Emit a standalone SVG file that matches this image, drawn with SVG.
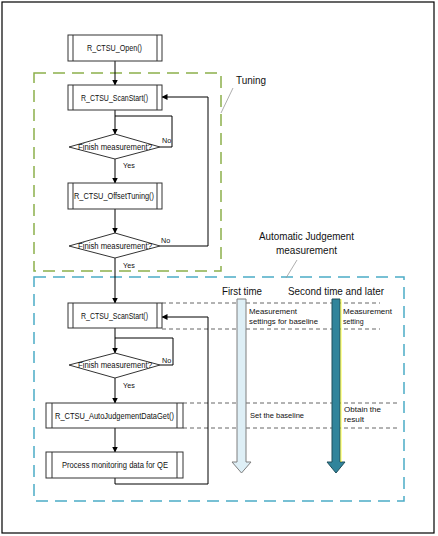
<svg xmlns="http://www.w3.org/2000/svg" width="438" height="536" viewBox="0 0 438 536">
<defs>
<marker id="ah" markerWidth="6" markerHeight="6" refX="5.5" refY="3" orient="auto" markerUnits="userSpaceOnUse">
<path d="M0,0 L6,3 L0,6 Z" fill="#000"/>
</marker>
<style>
.box{fill:#fff;stroke:#333;stroke-width:1}
.in{stroke:#333;stroke-width:1}
.t{font-family:"Liberation Sans",Arial,sans-serif;font-size:8.5px;fill:#111}
.s{font-family:"Liberation Sans",Arial,sans-serif;font-size:7.2px;fill:#111}
.lbl{font-family:"Liberation Sans",Arial,sans-serif;font-size:10.5px;fill:#111}
.sm{font-family:"Liberation Sans",Arial,sans-serif;font-size:7px;fill:#111}
.c{fill:none;stroke:#000;stroke-width:1}
.gd{fill:none;stroke:#666;stroke-width:1;stroke-dasharray:4,3}
.lead{stroke:#999;stroke-width:0.8}
</style>
</defs>
<rect x="2" y="2" width="432" height="531" fill="#fff" stroke="#000" stroke-width="1.2"/>
<g id="tuning-frame">
<rect x="34" y="73" width="187" height="198" fill="none" stroke="#8cb04b" stroke-width="1.5" stroke-dasharray="12,7"/>
<text class="lbl" x="236" y="84" textLength="30" lengthAdjust="spacingAndGlyphs">Tuning</text>
<line class="lead" x1="233" y1="88" x2="221" y2="113"/>
</g>
<g id="aj-frame">
<rect x="34" y="277" width="370" height="224" fill="none" stroke="#4bacc6" stroke-width="1.5" stroke-dasharray="12,7"/>
<text class="lbl" x="259" y="240" textLength="95" lengthAdjust="spacingAndGlyphs">Automatic Judgement</text>
<text class="lbl" x="276" y="254" textLength="61" lengthAdjust="spacingAndGlyphs">measurement</text>
<line class="lead" x1="297" y1="260" x2="286" y2="278"/>
</g>
<g id="guides">
<line class="gd" x1="162" y1="303" x2="380" y2="303"/>
<line class="gd" x1="162" y1="329" x2="380" y2="329"/>
<line class="gd" x1="183" y1="403" x2="398" y2="403"/>
<line class="gd" x1="183" y1="428" x2="398" y2="428"/>
</g>
<g id="connectors">
<line class="c" x1="115" y1="61" x2="115" y2="85" marker-end="url(#ah)"/>
<line class="c" x1="115" y1="110" x2="115" y2="134" marker-end="url(#ah)"/>
<polyline class="c" points="160,147 172,147 172,116 115,116"/>
<line class="c" x1="115" y1="159" x2="115" y2="183" marker-end="url(#ah)"/>
<line class="c" x1="115" y1="209" x2="115" y2="233" marker-end="url(#ah)"/>
<polyline class="c" points="160,246 208,246 208,97 162,97" marker-end="url(#ah)"/>
<line class="c" x1="115" y1="258" x2="115" y2="303" marker-end="url(#ah)"/>
<line class="c" x1="115" y1="328" x2="115" y2="353" marker-end="url(#ah)"/>
<polyline class="c" points="160,365 173,365 173,338 115,338"/>
<line class="c" x1="115" y1="378" x2="115" y2="403" marker-end="url(#ah)"/>
<line class="c" x1="115" y1="428" x2="115" y2="452" marker-end="url(#ah)"/>
<polyline class="c" points="115,478 115,484 208,484 208,317 162,317" marker-end="url(#ah)"/>
<text class="s" x="162" y="143">No</text>
<text class="s" x="123" y="168">Yes</text>
<text class="s" x="161" y="243">No</text>
<text class="s" x="123" y="268">Yes</text>
<text class="s" x="162" y="363">No</text>
<text class="s" x="123" y="388">Yes</text>
</g>
<g id="open">
<rect class="box" x="68" y="35" width="94" height="26"/>
<line class="in" x1="73" y1="35" x2="73" y2="61"/><line class="in" x1="157" y1="35" x2="157" y2="61"/>
<text class="t" x="87" y="51" textLength="55" lengthAdjust="spacingAndGlyphs">R_CTSU_Open()</text>
</g>
<g id="scan1">
<rect class="box" x="68" y="85" width="94" height="25"/>
<line class="in" x1="73" y1="85" x2="73" y2="110"/><line class="in" x1="157" y1="85" x2="157" y2="110"/>
<text class="t" x="81" y="101" textLength="67" lengthAdjust="spacingAndGlyphs">R_CTSU_ScanStart()</text>
</g>
<g id="finish1">
<polygon class="box" points="115,134 160,147 115,159 69,147"/>
<text class="t" x="78" y="150" textLength="74" lengthAdjust="spacingAndGlyphs">Finish measurement?</text>
</g>
<g id="offset">
<rect class="box" x="68" y="183" width="94" height="26"/>
<line class="in" x1="73" y1="183" x2="73" y2="209"/><line class="in" x1="157" y1="183" x2="157" y2="209"/>
<text class="t" x="74" y="199" textLength="80" lengthAdjust="spacingAndGlyphs">R_CTSU_OffsetTuning()</text>
</g>
<g id="finish2">
<polygon class="box" points="115,233 160,246 115,258 69,246"/>
<text class="t" x="78" y="249" textLength="74" lengthAdjust="spacingAndGlyphs">Finish measurement?</text>
</g>
<g id="scan2">
<rect class="box" x="68" y="303" width="94" height="25"/>
<line class="in" x1="73" y1="303" x2="73" y2="328"/><line class="in" x1="157" y1="303" x2="157" y2="328"/>
<text class="t" x="81" y="319" textLength="67" lengthAdjust="spacingAndGlyphs">R_CTSU_ScanStart()</text>
</g>
<g id="finish3">
<polygon class="box" points="115,353 160,365 115,378 69,365"/>
<text class="t" x="78" y="368" textLength="74" lengthAdjust="spacingAndGlyphs">Finish measurement?</text>
</g>
<g id="ajget">
<rect class="box" x="46" y="403" width="137" height="25"/>
<line class="in" x1="52" y1="403" x2="52" y2="428"/><line class="in" x1="177" y1="403" x2="177" y2="428"/>
<text class="t" x="55" y="419" textLength="119" lengthAdjust="spacingAndGlyphs">R_CTSU_AutoJudgementDataGet()</text>
</g>
<g id="process">
<rect class="box" x="46" y="452" width="137" height="26"/>
<line class="in" x1="52" y1="452" x2="52" y2="478"/><line class="in" x1="177" y1="452" x2="177" y2="478"/>
<text class="t" x="62" y="468" textLength="106" lengthAdjust="spacingAndGlyphs">Process monitoring data for QE</text>
</g>
<g id="first-time">
<path d="M237,299 L246,299 L246,462 L251,462 L241.5,473 L232,462 L237,462 Z" fill="#deeff6" stroke="#7f7f7f" stroke-width="1"/>
<text class="lbl" x="222" y="295" textLength="40" lengthAdjust="spacingAndGlyphs">First time</text>
<text class="sm" x="249" y="314" textLength="48" lengthAdjust="spacingAndGlyphs">Measurement</text>
<text class="sm" x="249" y="324" textLength="69" lengthAdjust="spacingAndGlyphs">settings for baseline</text>
<text class="sm" x="250" y="418" textLength="54" lengthAdjust="spacingAndGlyphs">Set the baseline</text>
</g>
<g id="second-time">
<path d="M332,299 L340,299 L340,462 L345,462 L336,473 L327,462 L332,462 Z" fill="#31849b" stroke="#1f4f5c" stroke-width="1"/>
<line x1="341" y1="299" x2="341" y2="462" stroke="#ffff00" stroke-width="0.8"/>
<text class="lbl" x="288" y="295" textLength="96" lengthAdjust="spacingAndGlyphs">Second time and later</text>
<text class="sm" x="343" y="314" textLength="49" lengthAdjust="spacingAndGlyphs">Measurement</text>
<text class="sm" x="343" y="324">setting</text>
<text class="sm" x="344" y="412" textLength="37" lengthAdjust="spacingAndGlyphs">Obtain the</text>
<text class="sm" x="344" y="422" textLength="20" lengthAdjust="spacingAndGlyphs">result</text>
</g>
</svg>
